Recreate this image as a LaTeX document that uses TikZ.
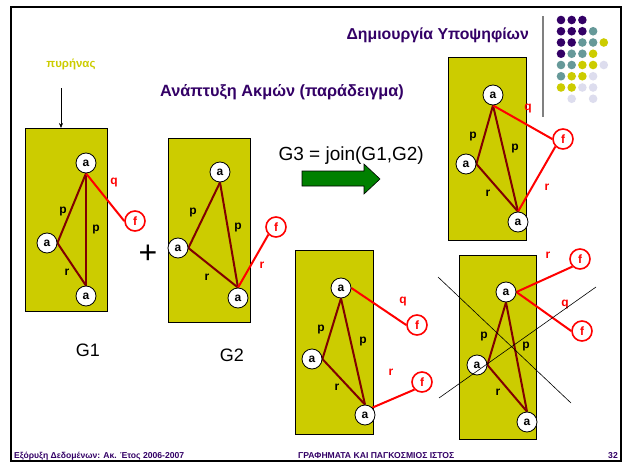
\documentclass[tikz,border=0pt]{standalone}
\usepackage{fontspec}
\setmainfont{Liberation Sans}
\usetikzlibrary{arrows.meta}
\definecolor{ylw}{RGB}{204,204,0}
\definecolor{prp}{RGB}{51,0,102}
\definecolor{tealc}{RGB}{102,153,153}
\definecolor{lav}{RGB}{221,221,238}
\definecolor{dred}{RGB}{128,0,0}
\definecolor{grn}{RGB}{0,128,0}
\pgfdeclarelayer{bg}
\pgfdeclarelayer{mid}
\pgfsetlayers{bg,mid,main}
\begin{document}
\begin{tikzpicture}[x=1pt,y=-1pt,
  gbox/.style={draw=black, line width=0.8pt, fill=ylw, anchor=north west, inner sep=0pt},
  anode/.style={circle, draw=black, line width=0.8pt, fill=white, inner sep=0pt, minimum size=20pt, font=\bfseries\fontsize{12}{12}\selectfont},
  fnode/.style={circle, draw=red, line width=1.6pt, fill=white, text=red, inner sep=0pt, minimum size=20pt, font=\bfseries\fontsize{12}{12}\selectfont},
  kedge/.style={draw=dred, line width=2pt},
  redge/.style={draw=red, line width=2pt},
  elab/.style={font=\bfseries\fontsize{12}{12}\selectfont, inner sep=0pt},
  rlab/.style={elab, text=red},
  foot/.style={font=\bfseries\fontsize{8.6}{8.6}\selectfont, text=prp, inner sep=0pt},
  gtxt/.style={font=\fontsize{18}{18}\selectfont, inner sep=0pt}
]
\useasboundingbox (0,0) rectangle (625,463);
\begin{pgfonlayer}{bg}
\fill[white] (0,0) rectangle (625,463);
\end{pgfonlayer}
\draw[line width=2.5pt] (11,7) rectangle (621,461);

% dots grid
\foreach \c/\r/\col in {1/1/prp,2/1/prp,3/1/prp,
  1/2/prp,2/2/prp,3/2/prp,4/2/tealc,
  1/3/prp,2/3/prp,3/3/tealc,4/3/tealc,5/3/ylw,
  1/4/prp,2/4/tealc,3/4/tealc,4/4/ylw,
  1/5/tealc,2/5/tealc,3/5/ylw,4/5/ylw,5/5/lav,
  1/6/tealc,2/6/ylw,3/6/ylw,4/6/lav,
  1/7/ylw,2/7/ylw,3/7/lav,4/7/lav,
  2/8/lav,4/8/lav}
  {\fill[\col] ({561+(\c-1)*10.7},{20+(\r-1)*11.25}) circle (4.3pt);}
\draw[gray, line width=2pt] (543,16) -- (543,117);

% titles
\node[font=\bfseries\fontsize{15.8}{15.8}\selectfont, text=prp, anchor=east, inner sep=0pt] (title) at (529,35) {Δημιουργία Υποψηφίων};
\node[font=\bfseries\fontsize{16.3}{16.3}\selectfont, text=prp, anchor=west, inner sep=0pt] (sub) at (160,92) {Ανάπτυξη Ακμών (παράδειγμα)};
\node[font=\bfseries\fontsize{11.5}{11.5}\selectfont, text=ylw, inner sep=0pt] (kern) at (71,64) {πυρήνας};

% boxes
\begin{pgfonlayer}{bg}
\node[gbox, minimum width=82pt, minimum height=183pt] (b1) at (25,128) {};
\node[gbox, minimum width=82pt, minimum height=184pt] (b2) at (168,138) {};
\node[gbox, minimum width=78pt, minimum height=183pt] (b3) at (448,57) {};
\node[gbox, minimum width=78pt, minimum height=184pt] (b4) at (295,250) {};
\node[gbox, minimum width=77pt, minimum height=184pt] (b5) at (459,255) {};
\end{pgfonlayer}

\coordinate (kt) at (61,88);
\draw[-{Stealth[length=5pt,width=4pt]}, line width=0.6pt] (kt) -- (kt |- b1.north);

% G1
\node[anode] (a1t) at (86,163) {a};
\node[anode] (a1l) at (47,243) {a};
\node[anode] (a1b) at (86,296) {a};
\node[fnode] (f1) at (135,221) {f};
% G2
\node[anode] (a2t) at (220,172) {a};
\node[anode] (a2l) at (178,248) {a};
\node[anode] (a2b) at (238,298) {a};
\node[fnode] (f2) at (276,227) {f};
% G3
\node[anode] (a3t) at (493,95) {a};
\node[anode] (a3l) at (466,164) {a};
\node[anode] (a3b) at (518,222) {a};
\node[fnode] (f3) at (563,139) {f};
% B4
\node[anode] (a4t) at (341,288) {a};
\node[anode] (a4l) at (312,359) {a};
\node[anode] (a4b) at (365,415) {a};
\node[fnode] (f4a) at (417,325) {f};
\node[fnode] (f4b) at (422,382) {f};
% B5
\node[anode] (a5t) at (506,292) {a};
\node[anode] (a5l) at (477,365) {a};
\node[anode] (a5b) at (527,422) {a};
\node[fnode] (f5a) at (580,259) {f};
\node[fnode] (f5b) at (582,331) {f};

\begin{pgfonlayer}{mid}
% G1
\draw[kedge] (a1t.south) -- (a1l.east);
\draw[kedge] (a1t.south) -- (a1b.north);
\draw[kedge] (a1l.east) -- (a1b.north);
\draw[redge] (a1t.south) -- (f1.west);
% G2
\draw[kedge] (a2t.south) -- (a2l.east);
\draw[kedge] (a2t.south) -- (a2b.north);
\draw[kedge] (a2l.east) -- (a2b.north);
\draw[redge] (a2b.north) -- (f2.south west);
% G3
\draw[kedge] (a3t.south) -- (a3l.east);
\draw[kedge] (a3t.south) -- (a3b.north);
\draw[kedge] (a3l.east) -- (a3b.north);
\draw[redge] (a3t.south) -- (f3.west);
\draw[redge] (a3b.north) -- (f3.south west);
% B4
\draw[kedge] (a4t.south) -- (a4l.east);
\draw[kedge] (a4t.south) -- (a4b.north);
\draw[kedge] (a4l.east) -- (a4b.north);
\draw[redge] (a4t.east) -- (f4a.west);
\draw[redge] (a4b.north east) -- (f4b.south west);
% B5
\draw[kedge] (a5t.south) -- (a5l.east);
\draw[kedge] (a5t.south) -- (a5b.north);
\draw[kedge] (a5l.east) -- (a5b.north);
\draw[redge] (a5t.east) -- (f5a.south west);
\draw[redge] (a5t.east) -- (f5b.west);
\end{pgfonlayer}

% edge labels
\node[elab] (l1p1) at (63,212) {p};
\node[elab] (l1p2) at (96,230) {p};
\node[elab] (l1r) at (67,272) {r};
\node[rlab] (l1q) at (114,183) {q};
\node[elab] (l2p1) at (193,213) {p};
\node[elab] (l2p2) at (238,228) {p};
\node[elab] (l2r) at (207,277) {r};
\node[rlab] (l2rr) at (262,265) {r};
\node[elab] (l3p1) at (473,137) {p};
\node[elab] (l3p2) at (515,149) {p};
\node[elab] (l3r) at (488,193) {r};
\node[rlab] (l3q) at (528,109) {q};
\node[rlab] (l3rr) at (547,187) {r};
\node[elab] (l4p1) at (321,330) {p};
\node[elab] (l4p2) at (363,342) {p};
\node[elab] (l4r) at (337,387) {r};
\node[rlab] (l4q) at (403,302) {q};
\node[rlab] (l4rr) at (391,372) {r};
\node[elab] (l5p1) at (484,337) {p};
\node[elab] (l5p2) at (526,347) {p};
\node[elab] (l5r) at (498,392) {r};
\node[rlab] (l5rr) at (548,255) {r};
\node[rlab] (l5q) at (565,305) {q};

% cross lines
\draw[line width=0.6pt] (438,277) -- (571,403);
\draw[line width=0.6pt] (439,398) -- (596,287);

% plus, labels
\node[font=\fontsize{32}{32}\selectfont, inner sep=0pt] (plus) at (148,254) {+};
\node[gtxt] (g1) at (88,350) {G1};
\node[gtxt] (g2) at (232,355) {G2};
\node[font=\fontsize{19}{19}\selectfont, anchor=east, inner sep=0pt] (join) at (424,156) {G3 = join(G1,G2)};

% green arrow
\draw[fill=grn, line width=0.6pt] (302,171) -- (364,171) -- (364,164) -- (380,179) -- (364,194) -- (364,186) -- (302,186) -- cycle;

% footer
\node[foot, anchor=base west] (fl) at (14,458) {Εξόρυξη Δεδομένων: Ακ. Έτος 2006-2007};
\node[foot, anchor=base west] (fc) at (298,458) {ΓΡΑΦΗΜΑΤΑ ΚΑΙ ΠΑΓΚΟΣΜΙΟΣ ΙΣΤΟΣ};
\node[foot, anchor=base east] (fr) at (618,458) {32};
\end{tikzpicture}
\end{document}
